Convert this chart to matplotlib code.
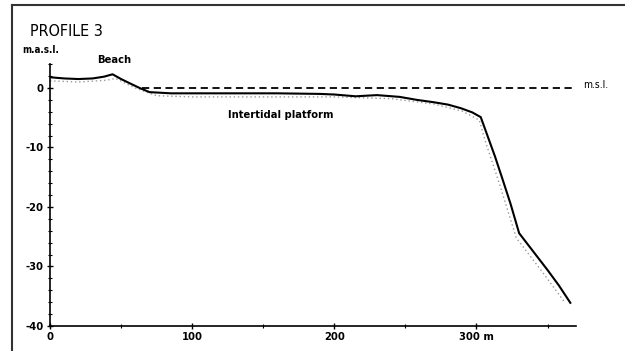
import matplotlib
matplotlib.use('Agg')
import matplotlib.pyplot as plt
from matplotlib.lines import Line2D
from matplotlib.ticker import MultipleLocator

plt.rcParams['font.family'] = ['DejaVu Sans']
plt.rcParams['font.stretch'] = 'condensed'
plt.rcParams['axes.unicode_minus'] = False

# profile (distance m, elevation m.a.s.l.)
dist = [0, 10, 20, 30, 38, 44, 50, 56, 63, 70, 85, 100, 130, 160, 190, 200,
        215, 230, 246, 258, 270, 280, 289, 297, 303, 308, 313, 318, 324, 330,
        340, 350, 358, 366]
elev = [1.8, 1.6, 1.5, 1.6, 1.9, 2.3, 1.5, 0.8, 0.0, -0.7, -0.9, -0.9, -0.9, -0.9,
        -1.0, -1.1, -1.4, -1.2, -1.5, -2.0, -2.4, -2.8, -3.4, -4.1, -4.9, -8.2,
        -11.5, -15.1, -19.5, -24.4, -27.5, -30.6, -33.2, -36.1]

# older survey (dotted grey)
dist2 = [0, 20, 40, 46, 60, 75, 100, 150, 200, 240, 270, 290, 302, 306, 316, 328, 345, 362]
elev2 = [1.2, 1.0, 1.3, 1.6, 0.0, -1.3, -1.5, -1.5, -1.5, -1.8, -2.7, -3.9, -5.4,
         -8.8, -16.0, -25.2, -30.5, -36.0]

msl_x = [65, 370]
msl_y = [0, 0]

xticks = [0, 100, 200, 300]
xticklabels = ['0', '100', '200', '300 m']
yticks = [0, -10, -20, -30, -40]

fig = plt.figure(figsize=(6.25, 3.51), dpi=100)
ax = fig.add_axes([0.08, 0.0712, 0.8416, 0.746])

ax.plot(dist2, elev2, color='#999999', lw=1.0, ls=(0, (1, 2)), zorder=2)
ax.plot(dist, elev, color='black', lw=1.5, zorder=3)
ax.plot(msl_x, msl_y, color='black', lw=1.3, ls=(0, (4, 2.5)), zorder=3)

ax.set_xlim(0, 370)
ax.set_ylim(-40, 4)
ax.spines['top'].set_visible(False)
ax.spines['right'].set_visible(False)
ax.spines['left'].set_linewidth(1.2)
ax.spines['bottom'].set_linewidth(1.2)

ax.set_xticks(xticks)
ax.set_xticklabels(xticklabels)
ax.set_yticks(yticks)
ax.xaxis.set_minor_locator(MultipleLocator(50))
ax.yaxis.set_minor_locator(MultipleLocator(2))
ax.tick_params(which='major', direction='inout', length=5, width=1, labelsize=8, pad=2)
ax.tick_params(which='minor', direction='inout', length=3, width=0.8)
for lab in ax.get_xticklabels() + ax.get_yticklabels():
    lab.set_fontweight('bold')

ax.text(375, 0.5, 'm.s.l.', fontsize=7.5, va='center', ha='left', clip_on=False)
ax.text(33, 3.9, 'Beach', fontsize=8, fontweight='bold', ha='left', va='bottom')
ax.text(125, -4.5, 'Intertidal platform', fontsize=8, fontweight='bold', ha='left', va='center')

fig.text(0.048, 0.889, 'PROFILE 3', fontsize=11.5, ha='left', va='bottom')
fig.text(0.035, 0.843, 'm.a.s.l.', fontsize=7, fontweight='bold', ha='left', va='bottom')

# scanned page frame
fig.add_artist(Line2D([0.019, 0.019], [0.0, 0.986], transform=fig.transFigure, color='#333333', lw=1.5))
fig.add_artist(Line2D([0.019, 1.0], [0.986, 0.986], transform=fig.transFigure, color='#333333', lw=1.5))

fig.savefig('out.png', dpi=100)
